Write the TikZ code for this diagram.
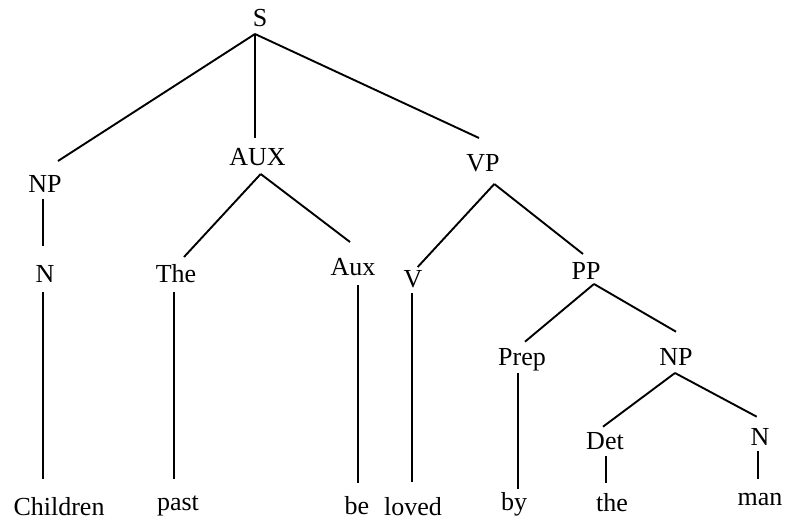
\documentclass[tikz,border=0pt]{standalone}
\usepackage{fontspec}
\setmainfont{Liberation Serif}
\begin{document}
\begin{tikzpicture}[x=1bp, y=-1bp,
  lbl/.style={anchor=base, inner sep=0pt, font=\fontsize{26bp}{30bp}\selectfont},
  edge/.style={draw=black, line width=1.9bp}]
\useasboundingbox (0,0) rectangle (786,524);

% labels (placed by centre x and baseline y)
\node[lbl] (S)        at (260,27)   {S};
\node[lbl] (NP)       at (45,193)   {NP};
\node[lbl] (AUX)      at (257.5,166){AUX};
\node[lbl] (VP)       at (483,172)  {VP};
\node[lbl] (N)        at (45,283)   {N};
\node[lbl] (The)      at (176,283)  {The};
\node[lbl] (Aux)      at (353,276)  {Aux};
\node[lbl] (V)        at (413,288)  {V};
\node[lbl] (PP)       at (586,280)  {PP};
\node[lbl] (Prep)     at (522,365)  {Prep};
\node[lbl] (NPb)      at (676,365)  {NP};
\node[lbl] (Det)      at (605,449)  {Det};
\node[lbl] (Nb)       at (760,445)  {N};
\node[lbl] (Children) at (59,515)   {Children};
\node[lbl] (past)     at (178,510)  {past};
\node[lbl] (be)       at (357,514)  {be};
\node[lbl] (loved)    at (413,515)  {loved};
\node[lbl] (by)       at (514,510)  {by};
\node[lbl] (the)      at (612,511)  {the};
\node[lbl] (man)      at (760,505)  {man};

% attachment points: -t above a label, -b below it
\coordinate (S-b)        at (255,34);
\coordinate (NP-t)       at (58,161);
\coordinate (NP-b)       at (43.3,199);
\coordinate (AUX-t)      at (255,138);
\coordinate (AUX-b)      at (260.7,174);
\coordinate (VP-t)       at (479,138);
\coordinate (VP-b)       at (494.3,184);
\coordinate (N-t)        at (43.3,246);
\coordinate (N-b)        at (43.3,292);
\coordinate (The-t)      at (184,257);
\coordinate (The-b)      at (174,292);
\coordinate (Aux-t)      at (350,242);
\coordinate (Aux-b)      at (357.7,285);
\coordinate (V-t)        at (417.7,267);
\coordinate (V-b)        at (411.7,293);
\coordinate (PP-t)       at (583,254);
\coordinate (PP-b)       at (594,284);
\coordinate (Prep-t)     at (525,341.7);
\coordinate (Prep-b)     at (517.7,372.7);
\coordinate (NPb-t)      at (676,331.7);
\coordinate (NPb-b)      at (675,373);
\coordinate (Det-t)      at (603,426.7);
\coordinate (Det-b)      at (605.7,456);
\coordinate (Nb-t)       at (756.7,416.7);
\coordinate (Nb-b)       at (757.7,451);
\coordinate (Children-t) at (43.3,479);
\coordinate (past-t)     at (174,479);
\coordinate (be-t)       at (357.7,483);
\coordinate (loved-t)    at (411.7,482);
\coordinate (by-t)       at (517.7,489);
\coordinate (the-t)      at (605.7,483);
\coordinate (man-t)      at (757.7,479);

% branches
\draw[edge] (S-b) -- (NP-t);
\draw[edge] (S-b) -- (AUX-t);
\draw[edge] (S-b) -- (VP-t);
\draw[edge] (NP-b) -- (N-t);
\draw[edge] (N-b) -- (Children-t);
\draw[edge] (AUX-b) -- (The-t);
\draw[edge] (AUX-b) -- (Aux-t);
\draw[edge] (The-b) -- (past-t);
\draw[edge] (Aux-b) -- (be-t);
\draw[edge] (VP-b) -- (V-t);
\draw[edge] (VP-b) -- (PP-t);
\draw[edge] (V-b) -- (loved-t);
\draw[edge] (PP-b) -- (Prep-t);
\draw[edge] (PP-b) -- (NPb-t);
\draw[edge] (Prep-b) -- (by-t);
\draw[edge] (NPb-b) -- (Det-t);
\draw[edge] (NPb-b) -- (Nb-t);
\draw[edge] (Det-b) -- (the-t);
\draw[edge] (Nb-b) -- (man-t);
\end{tikzpicture}
\end{document}
